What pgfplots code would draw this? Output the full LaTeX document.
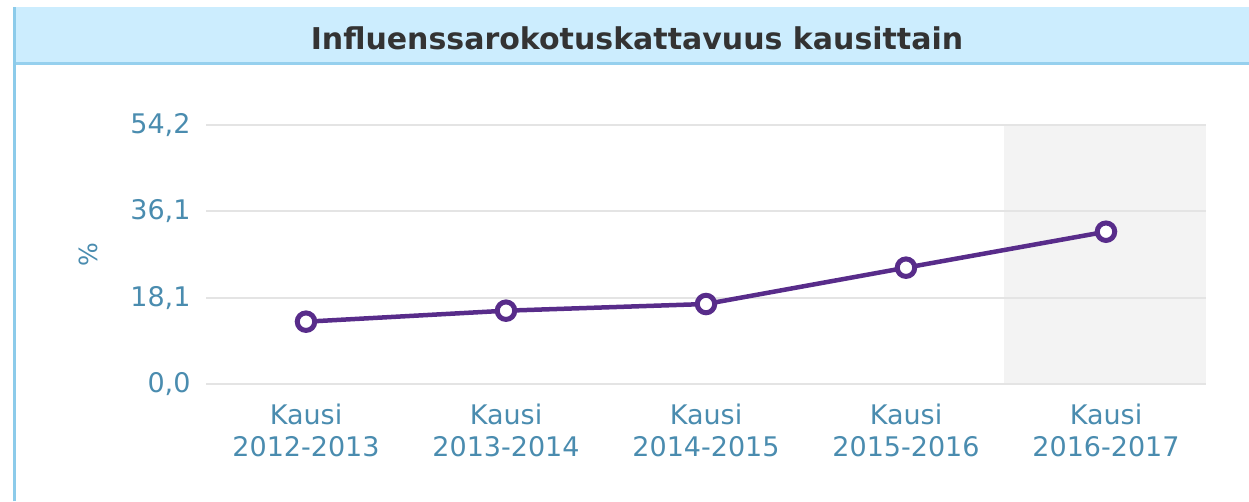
\documentclass[border=0pt]{standalone}
\usepackage{pgfplots}
\pgfplotsset{compat=1.18}
\usepackage{fontspec}
\setmainfont{DejaVu Sans}
\definecolor{tickc}{RGB}{74,140,175}
\definecolor{linec}{RGB}{88,44,138}
\definecolor{headbg}{RGB}{204,237,254}
\definecolor{headline}{RGB}{150,208,238}
\definecolor{bordc}{RGB}{140,203,234}
\definecolor{bandc}{RGB}{243,243,243}
\definecolor{gridc}{RGB}{228,228,228}
\definecolor{titlec}{RGB}{51,51,51}
\begin{document}
\begin{tikzpicture}[x=1pt,y=1pt]
\useasboundingbox (0,0) rectangle (1249,501);
\fill[headbg] (14,437) rectangle (1249,494);
\draw[headline, line width=3pt] (14,437) -- (1249,437);
\draw[bordc, line width=3pt] (14,0) -- (14,494);
\node[font=\bfseries\fontsize{30}{34}\selectfont, text=titlec] at (637,463) {Influenssarokotuskattavuus kausittain};
\fill[bandc] (1004,117) rectangle (1206,376);
\begin{axis}[
  at={(206pt,117pt)}, anchor=south west,
  scale only axis, width=1000pt, height=259pt,
  xmin=-0.5, xmax=4.5, ymin=0, ymax=54.2,
  axis line style={draw=none},
  major tick length=0pt,
  ymajorgrids, grid style={gridc, line width=2pt},
  xtick={0,1,2,3,4},
  xticklabels={{Kausi\\2012-2013},{Kausi\\2013-2014},{Kausi\\2014-2015},{Kausi\\2015-2016},{Kausi\\2016-2017}},
  xticklabel style={align=center, text=tickc, font=\fontsize{27}{32}\selectfont, yshift=-16pt},
  ytick={0,18.0667,36.1333,54.2},
  yticklabels={{0,0},{18,1},{36,1},{54,2}},
  yticklabel style={text=tickc, font=\fontsize{27}{30}\selectfont, xshift=-12pt},
  ylabel={\%},
  ylabel style={text=tickc, font=\fontsize{25}{28}\selectfont, xshift=0pt, yshift=26pt},
  clip=false,
]
\addplot[color=linec, line width=4.5pt, mark=*, mark size=8.75pt,
  mark options={fill=white, draw=linec, line width=5pt}]
  coordinates {(0,13.04) (1,15.34) (2,16.74) (3,24.34) (4,31.87)};
\end{axis}
\end{tikzpicture}
\end{document}
